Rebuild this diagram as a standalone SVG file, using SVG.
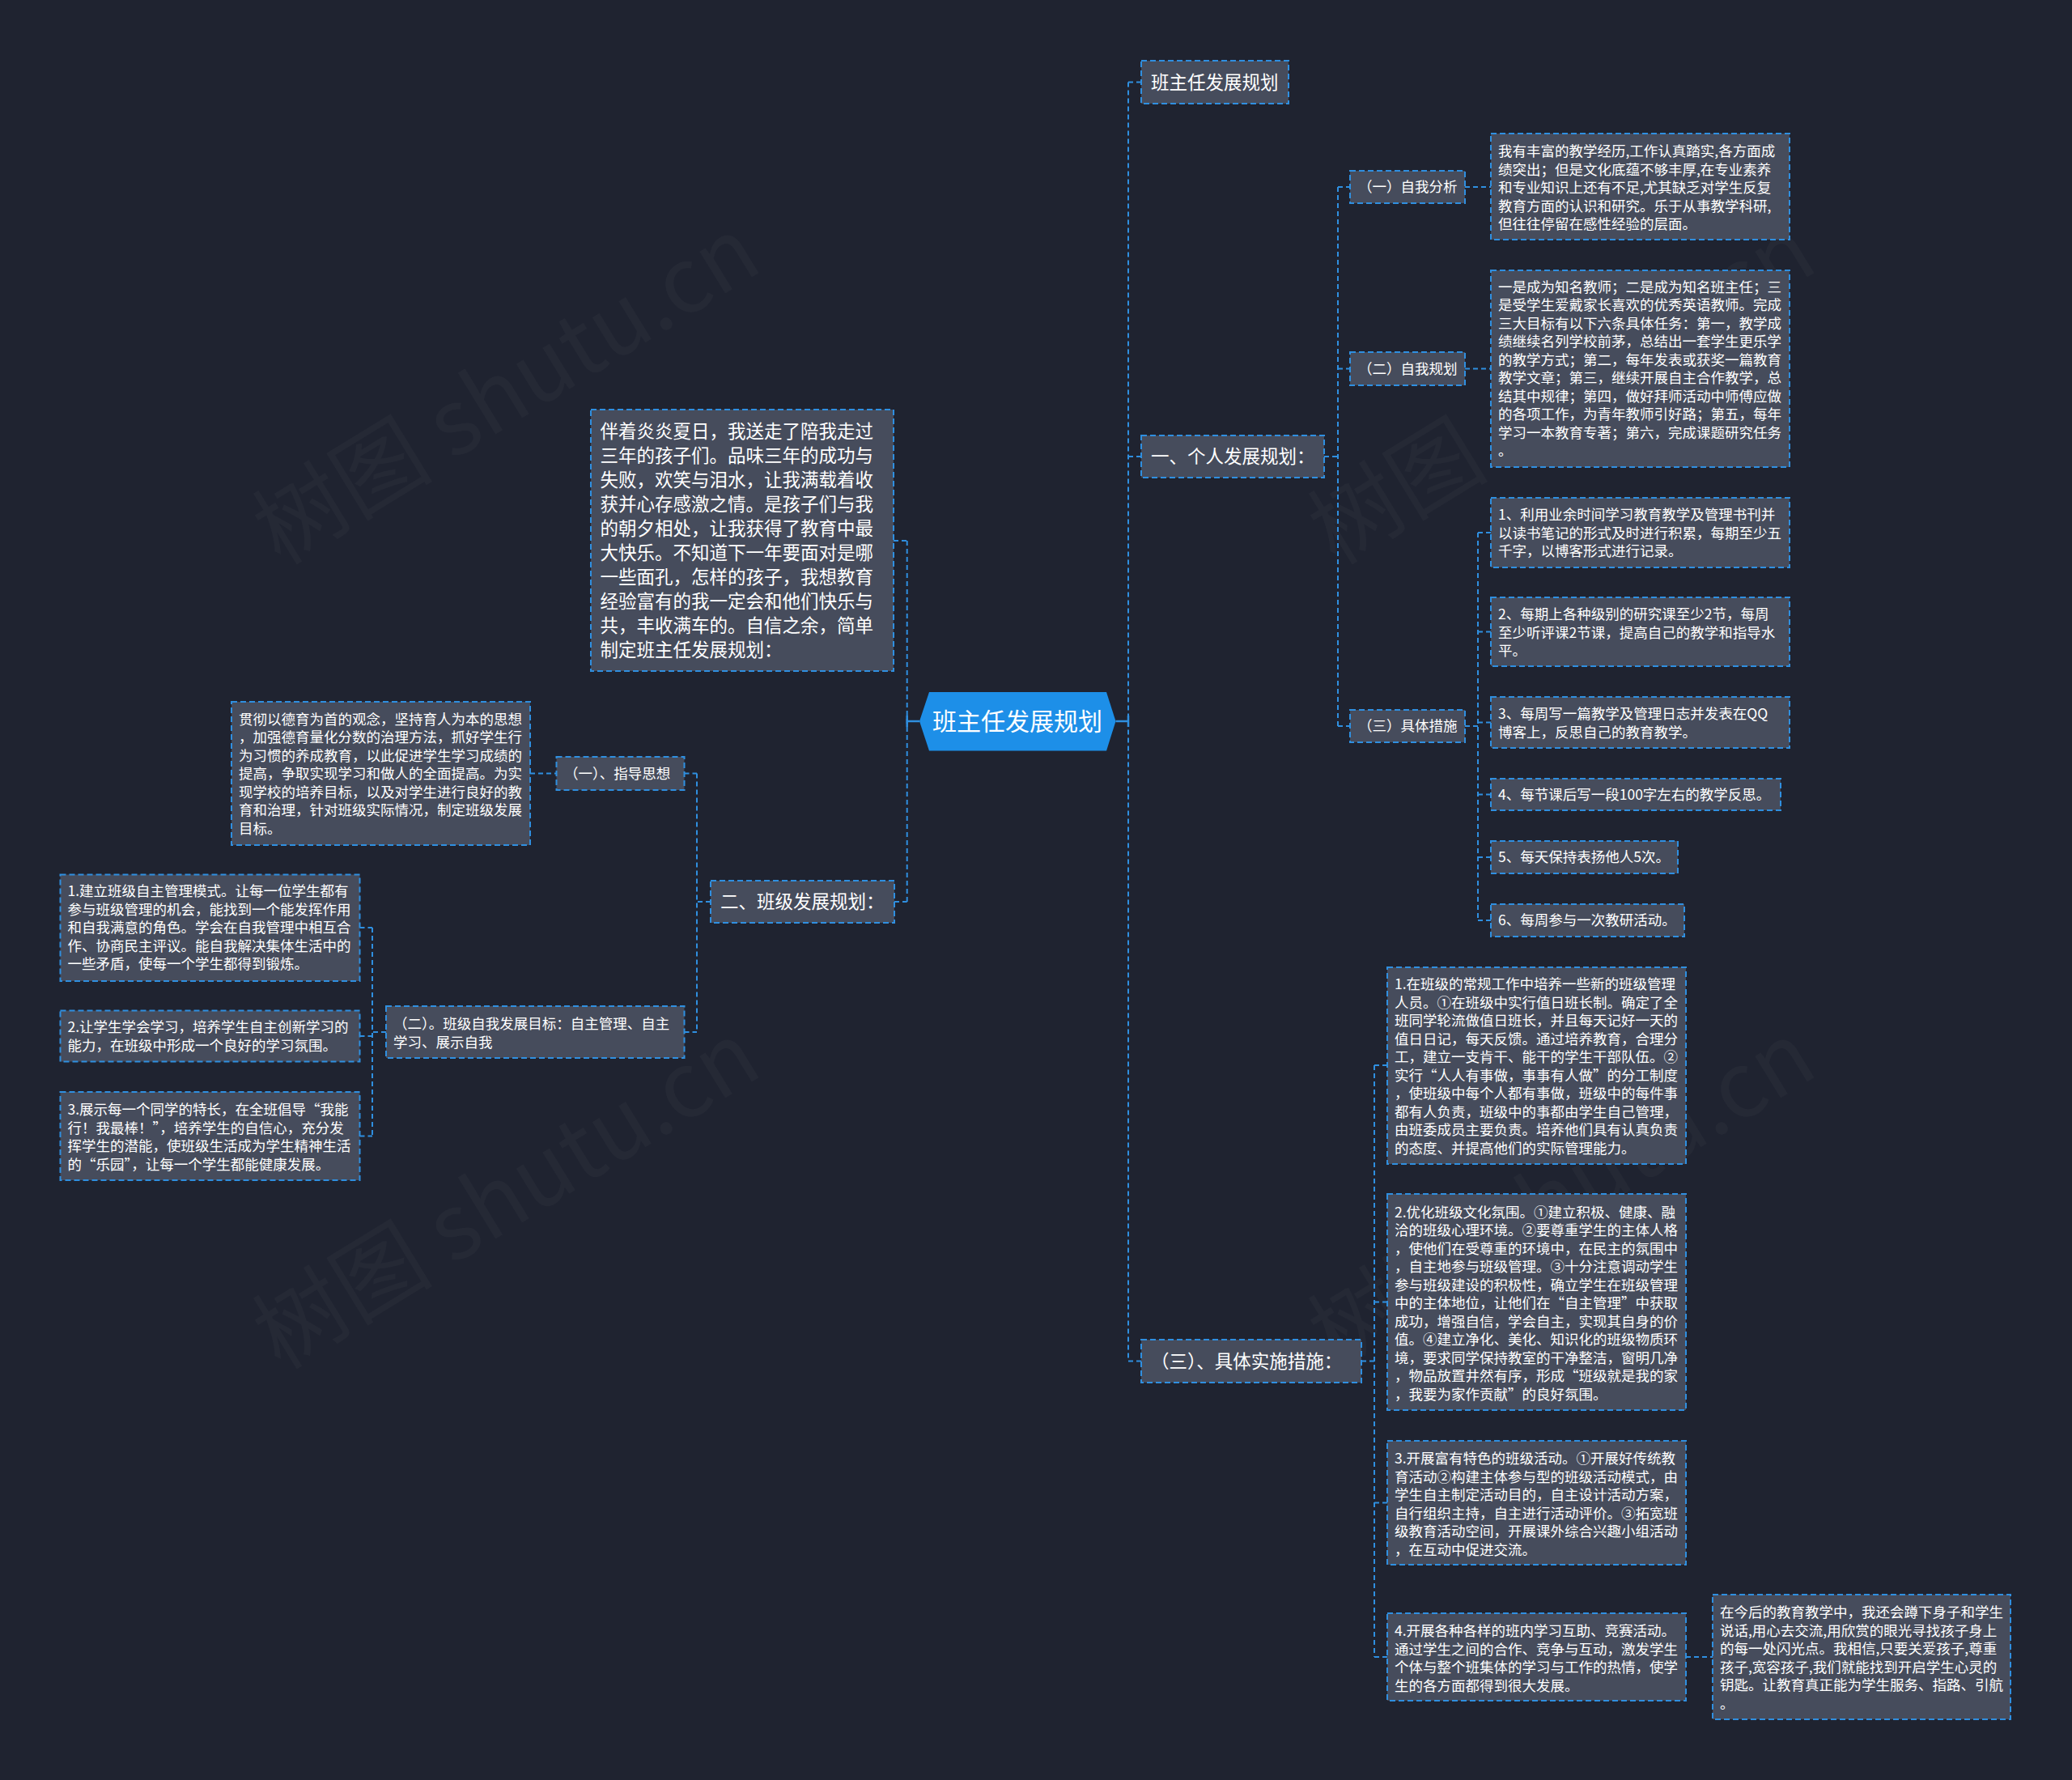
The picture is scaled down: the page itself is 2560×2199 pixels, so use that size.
<svg xmlns="http://www.w3.org/2000/svg" width="2560" height="2199" viewBox="0 0 2560 2199">
<style>
.bg{fill:#1f2330}
.wm{fill:#ffffff;fill-opacity:0.026;font-family:"Noto Sans CJK SC","Liberation Sans",sans-serif;font-size:112px}
.box{fill:#464c5c;stroke:#2f8fe0;stroke-width:2;stroke-dasharray:7 4}
.root{fill:#1d8fe8}
.t{fill:#ffffff;font-family:"Noto Sans CJK SC","Noto Sans CJK JP",sans-serif}
.s{font-size:17.5px}
.m{font-size:22.5px}
.r{font-size:30px}
.c{fill:none;stroke:#2f8fe0;stroke-width:2;stroke-dasharray:6 4}
.cs{fill:none;stroke:#2f8fe0;stroke-width:2.5}
</style>
<rect class="bg" x="0" y="0" width="2560" height="2199"/>
<g id="watermarks">
<text class="wm" text-anchor="middle" transform="translate(646 516) rotate(-31.5)">树图 shutu.cn</text>
<text class="wm" text-anchor="middle" transform="translate(646 1510) rotate(-31.5)">树图 shutu.cn</text>
<text class="wm" text-anchor="middle" transform="translate(1950 516) rotate(-31.5)">树图 shutu.cn</text>
<text class="wm" text-anchor="middle" transform="translate(1950 1510) rotate(-31.5)">树图 shutu.cn</text>
</g>
<g id="connectors">
<path class="cs" d="M1378.5 891H1394M1394 884V898M1136 891H1120.7M1120.7 884V898"/>
<path class="c" d="M1394 101.5V1681.5M1394 101.5H1410M1394 564H1410M1394 1681.5H1410"/>
<path class="c" d="M1636 564H1653M1653 231V897M1653 231H1668M1653 455.5H1668M1653 897H1668"/>
<path class="c" d="M1810 231H1842M1810 455.5H1842"/>
<path class="c" d="M1810 897H1826M1826 658V1137M1826 658H1842M1826 780.5H1842M1826 892.5H1842M1826 981.5H1842M1826 1059H1842M1826 1137H1842"/>
<path class="c" d="M1682 1681.5H1698M1698 1316V2047M1698 1316H1714M1698 1608.5H1714M1698 1856.5H1714M1698 2047H1714M2083 2047H2116"/>
<path class="c" d="M1120.7 668V1114M1104 668H1120.7M1105 1114H1120.7"/>
<path class="c" d="M878 1114H861M861 955.5V1275M845.5 955.5H861M845.5 1275H861M655 955.5H687.5"/>
<path class="c" d="M477 1275H460M460 1146V1403.5M444.5 1146H460M444.5 1280H460M444.5 1403.5H460"/>
</g>
<g id="root">
<polygon class="root" points="1136,891 1148,855 1367,855 1378.5,891 1367,927.5 1148,927.5"/>
<text class="t r" x="1257" y="901.8" text-anchor="middle">班主任发展规划</text>
</g>
<g id="n-top">
<rect class="box" x="1410" y="75" width="182" height="53"/>
<text class="t m" x="1422" y="109.6">班主任发展规划</text>
</g>
<g id="n-personal">
<rect class="box" x="1410" y="538" width="226" height="52"/>
<text class="t m" x="1422" y="572.1">一、个人发展规划：</text>
</g>
<g id="n-self-analysis">
<rect class="box" x="1668" y="211" width="142" height="40"/>
<text class="t s" x="1678" y="237.3">（一）自我分析</text>
</g>
<g id="n-self-analysis-text">
<rect class="box" x="1842" y="165" width="369" height="131"/>
<text class="t s" x="1851" y="193.1"><tspan x="1851">我有丰富的教学经历,工作认真踏实,各方面成</tspan><tspan x="1851" dy="22.5">绩突出；但是文化底蕴不够丰厚,在专业素养</tspan><tspan x="1851" dy="22.5">和专业知识上还有不足,尤其缺乏对学生反复</tspan><tspan x="1851" dy="22.5">教育方面的认识和研究。乐于从事教学科研,</tspan><tspan x="1851" dy="22.5">但往往停留在感性经验的层面。</tspan></text>
</g>
<g id="n-self-plan">
<rect class="box" x="1668" y="435" width="142" height="41"/>
<text class="t s" x="1678" y="461.8">（二）自我规划</text>
</g>
<g id="n-self-plan-text">
<rect class="box" x="1842" y="334" width="369" height="243"/>
<text class="t s" x="1851" y="360.9"><tspan x="1851">一是成为知名教师；二是成为知名班主任；三</tspan><tspan x="1851" dy="22.5">是受学生爱戴家长喜欢的优秀英语教师。完成</tspan><tspan x="1851" dy="22.5">三大目标有以下六条具体任务：第一，教学成</tspan><tspan x="1851" dy="22.5">绩继续名列学校前茅，总结出一套学生更乐学</tspan><tspan x="1851" dy="22.5">的教学方式；第二，每年发表或获奖一篇教育</tspan><tspan x="1851" dy="22.5">教学文章；第三，继续开展自主合作教学，总</tspan><tspan x="1851" dy="22.5">结其中规律；第四，做好拜师活动中师傅应做</tspan><tspan x="1851" dy="22.5">的各项工作，为青年教师引好路；第五，每年</tspan><tspan x="1851" dy="22.5">学习一本教育专著；第六，完成课题研究任务</tspan><tspan x="1851" dy="22.5">。</tspan></text>
</g>
<g id="n-measures">
<rect class="box" x="1668" y="877" width="142" height="40"/>
<text class="t s" x="1678" y="903.3">（三）具体措施</text>
</g>
<g id="n-m1">
<rect class="box" x="1842" y="615" width="369" height="86"/>
<text class="t s" x="1851" y="642.3"><tspan x="1851">1、利用业余时间学习教育教学及管理书刊并</tspan><tspan x="1851" dy="22.5">以读书笔记的形式及时进行积累，每期至少五</tspan><tspan x="1851" dy="22.5">千字，以博客形式进行记录。</tspan></text>
</g>
<g id="n-m2">
<rect class="box" x="1842" y="738" width="369" height="85"/>
<text class="t s" x="1851" y="765.3"><tspan x="1851">2、每期上各种级别的研究课至少2节，每周</tspan><tspan x="1851" dy="22.5">至少听评课2节课，提高自己的教学和指导水</tspan><tspan x="1851" dy="22.5">平。</tspan></text>
</g>
<g id="n-m3">
<rect class="box" x="1842" y="861" width="369" height="63"/>
<text class="t s" x="1851" y="888.3"><tspan x="1851">3、每周写一篇教学及管理日志并发表在QQ</tspan><tspan x="1851" dy="22.5">博客上，反思自己的教育教学。</tspan></text>
</g>
<g id="n-m4">
<rect class="box" x="1842" y="962" width="358" height="39"/>
<text class="t s" x="1851" y="987.8">4、每节课后写一段100字左右的教学反思。</text>
</g>
<g id="n-m5">
<rect class="box" x="1842" y="1039" width="231" height="40"/>
<text class="t s" x="1851" y="1065.3">5、每天保持表扬他人5次。</text>
</g>
<g id="n-m6">
<rect class="box" x="1842" y="1117" width="239" height="40"/>
<text class="t s" x="1851" y="1143.3">6、每周参与一次教研活动。</text>
</g>
<g id="n-implement">
<rect class="box" x="1410" y="1655" width="272" height="53"/>
<text class="t m" x="1422" y="1689.6">（三）、具体实施措施：</text>
</g>
<g id="n-i1">
<rect class="box" x="1714" y="1195" width="369" height="243"/>
<text class="t s" x="1723" y="1222.3"><tspan x="1723">1.在班级的常规工作中培养一些新的班级管理</tspan><tspan x="1723" dy="22.5">人员。①在班级中实行值日班长制。确定了全</tspan><tspan x="1723" dy="22.5">班同学轮流做值日班长，并且每天记好一天的</tspan><tspan x="1723" dy="22.5">值日日记，每天反馈。通过培养教育，合理分</tspan><tspan x="1723" dy="22.5">工，建立一支肯干、能干的学生干部队伍。②</tspan><tspan x="1723" dy="22.5">实行“人人有事做，事事有人做”的分工制度</tspan><tspan x="1723" dy="22.5">，使班级中每个人都有事做，班级中的每件事</tspan><tspan x="1723" dy="22.5">都有人负责，班级中的事都由学生自己管理，</tspan><tspan x="1723" dy="22.5">由班委成员主要负责。培养他们具有认真负责</tspan><tspan x="1723" dy="22.5">的态度、并提高他们的实际管理能力。</tspan></text>
</g>
<g id="n-i2">
<rect class="box" x="1714" y="1475" width="369" height="267"/>
<text class="t s" x="1723" y="1503.8"><tspan x="1723">2.优化班级文化氛围。①建立积极、健康、融</tspan><tspan x="1723" dy="22.5">洽的班级心理环境。②要尊重学生的主体人格</tspan><tspan x="1723" dy="22.5">，使他们在受尊重的环境中，在民主的氛围中</tspan><tspan x="1723" dy="22.5">，自主地参与班级管理。③十分注意调动学生</tspan><tspan x="1723" dy="22.5">参与班级建设的积极性，确立学生在班级管理</tspan><tspan x="1723" dy="22.5">中的主体地位，让他们在“自主管理”中获取</tspan><tspan x="1723" dy="22.5">成功，增强自信，学会自主，实现其自身的价</tspan><tspan x="1723" dy="22.5">值。④建立净化、美化、知识化的班级物质环</tspan><tspan x="1723" dy="22.5">境，要求同学保持教室的干净整洁，窗明几净</tspan><tspan x="1723" dy="22.5">，物品放置井然有序，形成“班级就是我的家</tspan><tspan x="1723" dy="22.5">，我要为家作贡献”的良好氛围。</tspan></text>
</g>
<g id="n-i3">
<rect class="box" x="1714" y="1780" width="369" height="153"/>
<text class="t s" x="1723" y="1808"><tspan x="1723">3.开展富有特色的班级活动。①开展好传统教</tspan><tspan x="1723" dy="22.5">育活动②构建主体参与型的班级活动模式，由</tspan><tspan x="1723" dy="22.5">学生自主制定活动目的，自主设计活动方案，</tspan><tspan x="1723" dy="22.5">自行组织主持，自主进行活动评价。③拓宽班</tspan><tspan x="1723" dy="22.5">级教育活动空间，开展课外综合兴趣小组活动</tspan><tspan x="1723" dy="22.5">，在互动中促进交流。</tspan></text>
</g>
<g id="n-i4">
<rect class="box" x="1714" y="1993" width="369" height="108"/>
<text class="t s" x="1723" y="2021.3"><tspan x="1723">4.开展各种各样的班内学习互助、竞赛活动。</tspan><tspan x="1723" dy="22.5">通过学生之间的合作、竞争与互动，激发学生</tspan><tspan x="1723" dy="22.5">个体与整个班集体的学习与工作的热情，使学</tspan><tspan x="1723" dy="22.5">生的各方面都得到很大发展。</tspan></text>
</g>
<g id="n-final">
<rect class="box" x="2116" y="1970" width="368" height="154"/>
<text class="t s" x="2125" y="1998"><tspan x="2125">在今后的教育教学中，我还会蹲下身子和学生</tspan><tspan x="2125" dy="22.5">说话,用心去交流,用欣赏的眼光寻找孩子身上</tspan><tspan x="2125" dy="22.5">的每一处闪光点。我相信,只要关爱孩子,尊重</tspan><tspan x="2125" dy="22.5">孩子,宽容孩子,我们就能找到开启学生心灵的</tspan><tspan x="2125" dy="22.5">钥匙。让教育真正能为学生服务、指路、引航</tspan><tspan x="2125" dy="22.5">。</tspan></text>
</g>
<g id="n-intro">
<rect class="box" x="730" y="506" width="374" height="323"/>
<text class="t m" x="741.5" y="541.1"><tspan x="741.5">伴着炎炎夏日，我送走了陪我走过</tspan><tspan x="741.5" dy="30">三年的孩子们。品味三年的成功与</tspan><tspan x="741.5" dy="30">失败，欢笑与泪水，让我满载着收</tspan><tspan x="741.5" dy="30">获并心存感激之情。是孩子们与我</tspan><tspan x="741.5" dy="30">的朝夕相处，让我获得了教育中最</tspan><tspan x="741.5" dy="30">大快乐。不知道下一年要面对是哪</tspan><tspan x="741.5" dy="30">一些面孔，怎样的孩子，我想教育</tspan><tspan x="741.5" dy="30">经验富有的我一定会和他们快乐与</tspan><tspan x="741.5" dy="30">共，丰收满车的。自信之余，简单</tspan><tspan x="741.5" dy="30">制定班主任发展规划：</tspan></text>
</g>
<g id="n-class">
<rect class="box" x="878" y="1088" width="227" height="52"/>
<text class="t m" x="890" y="1122.1">二、班级发展规划：</text>
</g>
<g id="n-guide">
<rect class="box" x="687.5" y="935" width="158" height="41"/>
<text class="t s" x="697" y="961.8">（一）、指导思想</text>
</g>
<g id="n-guide-text">
<rect class="box" x="286" y="867" width="369" height="177"/>
<text class="t s" x="295" y="894.7"><tspan x="295">贯彻以德育为首的观念，坚持育人为本的思想</tspan><tspan x="295" dy="22.5">，加强德育量化分数的治理方法，抓好学生行</tspan><tspan x="295" dy="22.5">为习惯的养成教育，以此促进学生学习成绩的</tspan><tspan x="295" dy="22.5">提高，争取实现学习和做人的全面提高。为实</tspan><tspan x="295" dy="22.5">现学校的培养目标，以及对学生进行良好的教</tspan><tspan x="295" dy="22.5">育和治理，针对班级实际情况，制定班级发展</tspan><tspan x="295" dy="22.5">目标。</tspan></text>
</g>
<g id="n-goal">
<rect class="box" x="477" y="1243" width="368.5" height="64"/>
<text class="t s" x="486" y="1271.3"><tspan x="486">（二）。班级自我发展目标：自主管理、自主</tspan><tspan x="486" dy="22.5">学习、展示自我</tspan></text>
</g>
<g id="n-g1">
<rect class="box" x="74.5" y="1080.5" width="370" height="131.5"/>
<text class="t s" x="83.5" y="1107.3"><tspan x="83.5">1.建立班级自主管理模式。让每一位学生都有</tspan><tspan x="83.5" dy="22.5">参与班级管理的机会，能找到一个能发挥作用</tspan><tspan x="83.5" dy="22.5">和自我满意的角色。学会在自我管理中相互合</tspan><tspan x="83.5" dy="22.5">作、协商民主评议。能自我解决集体生活中的</tspan><tspan x="83.5" dy="22.5">一些矛盾，使每一个学生都得到锻炼。</tspan></text>
</g>
<g id="n-g2">
<rect class="box" x="74.5" y="1248.5" width="370" height="63"/>
<text class="t s" x="83.5" y="1275.3"><tspan x="83.5">2.让学生学会学习，培养学生自主创新学习的</tspan><tspan x="83.5" dy="22.5">能力，在班级中形成一个良好的学习氛围。</tspan></text>
</g>
<g id="n-g3">
<rect class="box" x="74.5" y="1349" width="370" height="109"/>
<text class="t s" x="83.5" y="1377.3"><tspan x="83.5">3.展示每一个同学的特长，在全班倡导“我能</tspan><tspan x="83.5" dy="22.5">行！我最棒！”，培养学生的自信心，充分发</tspan><tspan x="83.5" dy="22.5">挥学生的潜能，使班级生活成为学生精神生活</tspan><tspan x="83.5" dy="22.5">的“乐园”，让每一个学生都能健康发展。</tspan></text>
</g>
</svg>
